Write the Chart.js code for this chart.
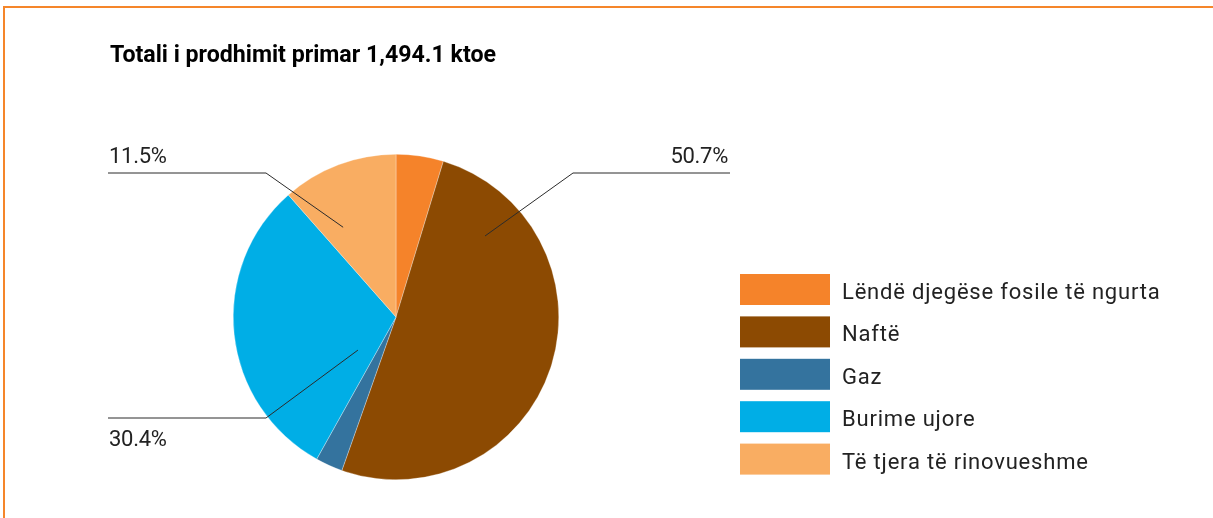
<!DOCTYPE html>
<html>
<head>
<meta charset="utf-8">
<script src="https://cdn.jsdelivr.net/npm/chart.js@4"></script>
<style>
  html, body { margin: 0; padding: 0; background: #fff; }
  #wrap { position: relative; width: 1213px; height: 518px; }
  #frame {
    position: absolute; left: 3px; top: 6px; right: 0; bottom: 0;
    border-top: 2px solid #f5862a; border-left: 2px solid #f5862a;
    pointer-events: none;
  }
  canvas { position: absolute; left: 0; top: 0; }
</style>
</head>
<body>
<div id="wrap">
  <canvas id="chart" width="1213" height="518"></canvas>
  <div id="frame"></div>
</div>
<script>
// data
const title = "Totali i prodhimit primar 1,494.1 ktoe"
const categories = ["Lëndë djegëse fosile të ngurta", "Naftë", "Gaz", "Burime ujore", "Të tjera të rinovueshme"]
const shares = [4.7, 50.7, 2.7, 30.4, 11.5]
const colors = ["#f5832a", "#8c4a02", "#34739e", "#00aee6", "#f9ad62"]
// which slices get a callout label
const labelled = [1, 3, 4]

const textColor = "#222"
const labelFont = '400 22px "Roboto", "DejaVu Sans", sans-serif'

// leader lines: anchor angle (deg from top) / radius fraction, elbow offset from centre, end x offset
const callouts = {
  4: { angle: 329.5, rFrac: 0.64, elbow: [-130, -144], endX: -288, side: "left", textPos: "above" },
  1: { angle: 47.7, rFrac: 0.74, elbow: [177, -144], endX: 334, side: "right", textPos: "above" },
  3: { angle: 229, rFrac: 0.31, elbow: [-130, 101], endX: -288, side: "left", textPos: "below" }
}

const extras = {
  id: "extras",
  afterDraw(chart) {
    const ctx = chart.ctx
    const meta = chart.getDatasetMeta(0)
    const cx = meta.data[0].x
    const cy = meta.data[0].y
    const r = meta.data[0].outerRadius

    ctx.save()
    // title, squeezed to the width of the original condensed face
    ctx.fillStyle = "#000"
    ctx.font = 'bold 23px "Roboto", "DejaVu Sans", sans-serif'
    ctx.textBaseline = "alphabetic"
    ctx.textAlign = "left"
    const tw = ctx.measureText(title).width
    ctx.save()
    ctx.translate(110, 62)
    ctx.scale(386 / tw, 1)
    ctx.fillText(title, 0, 0)
    ctx.restore()

    // callouts
    ctx.strokeStyle = "#2b2b2b"
    ctx.lineWidth = 1
    ctx.font = labelFont
    ctx.fillStyle = textColor
    ctx.letterSpacing = "-0.3px"
    ctx.textBaseline = "alphabetic"
    labelled.forEach(i => {
      const c = callouts[i]
      const a = c.angle * Math.PI / 180 - Math.PI / 2
      const ax = cx + Math.cos(a) * r * c.rFrac
      const ay = cy + Math.sin(a) * r * c.rFrac
      const ex = cx + c.elbow[0]
      const ey = cy + c.elbow[1]
      const endX = cx + c.endX
      ctx.beginPath()
      ctx.moveTo(ax, ay)
      ctx.lineTo(ex, ey)
      ctx.lineTo(endX, ey)
      ctx.stroke()
      ctx.textAlign = c.side === "left" ? "left" : "right"
      const ty = c.textPos === "above" ? ey - 10 : ey + 28
      ctx.fillText(shares[i].toFixed(1) + "%", c.side === "left" ? endX + 1 : endX - 2, ty)
    })

    // legend
    const lx = 740, ly = 274, boxW = 90, boxH = 31, step = 42.4
    ctx.textAlign = "left"
    ctx.textBaseline = "alphabetic"
    ctx.letterSpacing = "0.8px"
    categories.forEach((name, i) => {
      const y = ly + i * step
      ctx.fillStyle = colors[i]
      ctx.fillRect(lx, y, boxW, boxH)
      ctx.fillStyle = textColor
      ctx.fillText(name, lx + boxW + 12, y + 25)
    })
    ctx.restore()
  }
}

new Chart(document.getElementById("chart"), {
  type: "pie",
  data: {
    labels: categories,
    datasets: [{
      data: shares,
      backgroundColor: colors,
      borderColor: "rgba(255,255,255,0.6)",
      borderWidth: 0.5
    }]
  },
  options: {
    responsive: false,
    animation: false,
    layout: { padding: { left: 233, right: 654, top: 154, bottom: 38 } },
    plugins: {
      legend: { display: false },
      tooltip: { enabled: false }
    }
  },
  plugins: [extras]
})
</script>
</body>
</html>
